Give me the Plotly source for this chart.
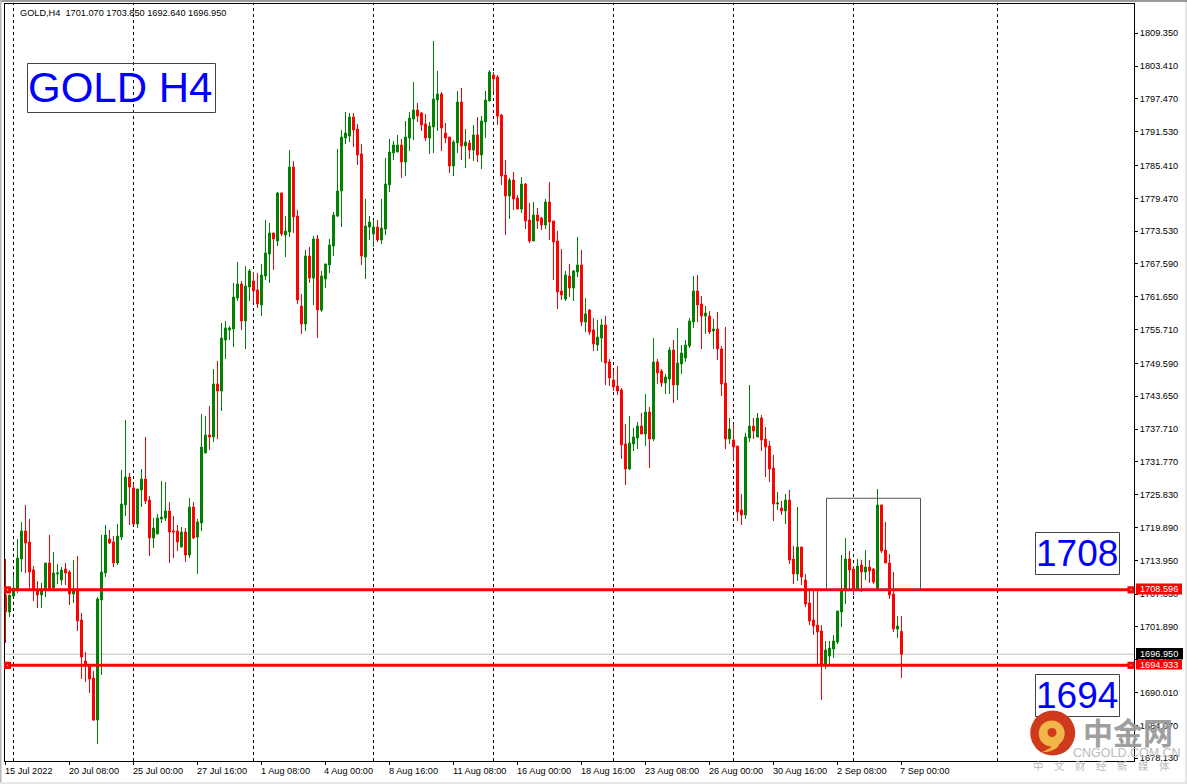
import plotly.graph_objects as go

directions = ("RGGGGRRRRG" "GRGGGRRGRR" "RRRGGGRRGG" "GRRGGRRGGG" "GRRRGRGRGG"
              "GRGRGGGGGR" "GGRRGGGRGR" "GGRRRGRGRG" "GGGGGGGRRR" "GGGRGGGGGR"
              "GGGRRRGGGR" "RRGGRGRGRG" "GGRRRRGRRG" "RRGRRGRRRR" "GRGGRGRRGG"
              "RRRRRRGGGR" "GRGRRGGRGG" "GGGRRGRGRR" "RGRRRGGRGR" "RRRGRGRRGR"
              "RRRRRGGGGG" "GRRGRGRRGR" "RRRGR")

highs = [
1714.18,1707.66,1711.28,1717.80,1720.88,1723.95,1721.42,1712.91,1710.20,1709.84,
1713.46,1718.53,1715.45,1713.28,1712.73,1713.46,1712.19,1714.00,1714.72,1704.41,
1697.35,1695.18,1693.91,1707.30,1718.53,1720.34,1719.43,1718.34,1720.52,1730.29,
1739.34,1729.75,1727.76,1726.85,1730.47,1736.26,1725.58,1721.60,1722.33,1728.30,
1728.12,1724.50,1721.96,1720.34,1719.97,1719.79,1725.22,1724.50,1721.42,1740.43,
1740.06,1741.87,1748.57,1750.02,1756.90,1757.26,1756.36,1764.14,1767.94,1764.50,
1767.21,1766.67,1766.13,1765.95,1767.58,1775.54,1775.00,1773.19,1780.61,1780.43,
1776.26,1788.21,1786.22,1777.35,1762.15,1770.11,1770.65,1772.64,1772.83,1766.31,
1767.58,1772.10,1776.99,1788.39,1791.83,1795.09,1794.91,1794.91,1792.92,1789.30,
1779.34,1776.26,1775.54,1775.54,1779.34,1786.76,1790.20,1789.84,1790.93,1790.20,
1793.46,1795.09,1800.52,1796.72,1795.09,1794.73,1793.28,1807.94,1802.51,1798.71,
1793.10,1790.56,1790.02,1798.89,1799.43,1792.01,1790.02,1792.74,1794.18,1794.36,
1798.89,1802.69,1802.33,1801.79,1794.73,1786.40,1783.14,1784.23,1780.07,1783.32,
1782.24,1778.62,1778.80,1777.71,1776.08,1779.34,1782.42,1775.36,1773.55,1770.29,
1766.31,1767.58,1766.49,1772.46,1770.11,1761.42,1759.43,1757.80,1757.44,1757.62,
1758.16,1750.38,1748.39,1749.11,1745.13,1738.62,1740.06,1737.89,1738.98,1740.61,
1744.05,1741.69,1754.18,1750.38,1748.57,1747.67,1752.55,1753.82,1756.00,1752.92,
1753.82,1757.80,1765.40,1765.59,1761.78,1759.97,1759.07,1757.62,1758.89,1752.73,
1756.17,1739.70,1738.62,1734.63,1725.95,1737.01,1745.68,1739.70,1740.61,1740.25,
1738.07,1735.54,1733.00,1726.31,1724.68,1725.95,1726.67,1716.53,1723.59,1716.35,
1711.47,1708.57,1708.57,1708.57,1702.23,1699.34,1699.34,1700.42,1704.77,1714.90,
1717.98,1715.63,1712.91,1714.18,1714.00,1715.81,1714.00,1712.55,1726.85,1723.96,
1720.88,1715.09,1711.83,1703.86,1703.85]

lows = [
1698.98,1703.68,1707.48,1708.03,1711.83,1711.65,1708.75,1706.58,1705.31,1705.31,
1707.30,1708.57,1708.57,1709.66,1709.48,1709.48,1705.86,1706.22,1701.15,1692.46,
1691.92,1689.93,1684.86,1680.70,1693.18,1710.92,1716.90,1712.73,1713.10,1717.62,
1721.96,1720.34,1720.52,1719.79,1723.59,1724.14,1714.72,1716.17,1718.71,1720.70,
1721.06,1713.46,1714.36,1715.63,1716.35,1713.64,1714.36,1717.80,1711.47,1719.25,
1733.37,1733.91,1735.36,1735.90,1740.97,1750.38,1753.82,1752.55,1760.88,1755.63,
1752.19,1760.88,1760.52,1759.61,1758.16,1764.68,1764.14,1766.49,1770.83,1772.64,
1768.84,1772.46,1773.19,1760.34,1754.91,1755.45,1764.14,1760.16,1754.18,1758.89,
1763.23,1765.95,1769.02,1776.08,1774.27,1789.30,1789.66,1788.75,1785.50,1767.40,
1764.86,1771.92,1770.65,1771.56,1771.20,1772.83,1780.61,1786.40,1787.85,1783.14,
1783.50,1788.03,1790.02,1793.28,1791.65,1789.84,1787.49,1787.67,1791.65,1788.03,
1789.48,1784.05,1783.50,1787.67,1786.40,1784.95,1786.58,1786.22,1786.04,1784.77,
1790.38,1797.08,1798.71,1792.74,1781.88,1772.83,1775.72,1777.35,1777.53,1776.81,
1773.91,1771.38,1771.74,1773.91,1773.73,1773.91,1771.92,1764.68,1759.43,1761.06,
1760.88,1761.60,1760.88,1765.22,1756.35,1755.27,1754.72,1751.83,1751.83,1749.84,
1745.68,1745.50,1744.59,1743.87,1732.28,1727.57,1730.29,1733.73,1734.09,1736.81,
1734.63,1730.65,1735.54,1745.86,1745.31,1744.05,1744.05,1742.42,1742.96,1747.67,
1749.84,1752.37,1756.00,1757.08,1752.19,1754.91,1754.91,1752.19,1750.20,1743.68,
1734.09,1734.99,1731.92,1721.06,1720.34,1721.42,1735.36,1735.90,1736.26,1733.73,
1729.02,1728.12,1721.06,1723.05,1722.15,1720.52,1713.28,1709.66,1710.20,1709.48,
1705.49,1702.23,1700.42,1695.00,1688.66,1694.27,1695.00,1696.26,1698.80,1701.87,
1706.04,1708.57,1707.66,1708.75,1708.21,1710.38,1709.84,1709.66,1708.75,1715.27,
1713.46,1706.94,1700.97,1699.88,1692.64]

body_tops = [
1707.66,1707.66,1708.93,1714.36,1719.25,1719.25,1717.26,1712.19,1708.75,1708.75,
1713.46,1713.46,1711.65,1711.65,1712.19,1712.37,1711.83,1708.75,1708.57,1703.14,
1695.72,1695.00,1692.64,1706.94,1711.83,1718.53,1717.80,1717.26,1718.34,1724.14,
1729.02,1729.02,1727.03,1726.85,1728.66,1728.66,1724.86,1719.79,1721.60,1721.78,
1722.87,1722.87,1719.25,1719.25,1719.07,1719.07,1723.59,1723.59,1720.88,1734.45,
1736.63,1736.63,1745.86,1745.86,1754.18,1756.00,1756.00,1761.60,1763.96,1763.96,
1763.59,1766.31,1764.50,1762.87,1765.59,1769.57,1773.19,1773.19,1780.43,1780.43,
1773.55,1785.13,1785.13,1776.26,1759.97,1769.02,1769.02,1772.10,1772.10,1765.40,
1767.58,1771.02,1776.45,1780.79,1790.56,1791.29,1794.18,1794.18,1792.01,1787.49,
1774.45,1775.18,1774.27,1774.27,1774.09,1782.06,1787.85,1789.12,1789.12,1789.12,
1790.56,1794.00,1795.45,1795.45,1794.91,1792.92,1792.55,1797.44,1798.35,1798.35,
1791.29,1790.56,1789.66,1796.90,1796.90,1789.66,1789.48,1790.93,1790.93,1793.46,
1797.26,1802.33,1801.79,1801.42,1794.55,1783.69,1782.78,1782.78,1779.52,1782.06,
1782.06,1775.54,1776.45,1776.45,1775.90,1778.80,1778.80,1775.36,1771.74,1762.69,
1765.59,1765.40,1766.31,1767.40,1767.40,1758.53,1759.25,1755.63,1754.36,1756.54,
1756.54,1749.84,1746.58,1745.50,1744.77,1735.00,1735.18,1736.26,1738.25,1738.25,
1740.79,1740.79,1749.84,1749.84,1748.21,1747.12,1752.01,1752.01,1749.66,1751.47,
1752.92,1757.26,1762.69,1762.69,1760.34,1758.71,1758.16,1755.81,1755.81,1752.19,
1746.04,1737.71,1735.72,1734.63,1723.05,1736.26,1738.25,1738.25,1739.70,1739.70,
1735.90,1734.63,1730.65,1724.32,1723.41,1724.86,1724.86,1714.18,1716.35,1716.35,
1710.38,1706.22,1703.14,1702.23,1701.15,1697.71,1698.07,1699.34,1704.77,1708.57,
1714.18,1714.18,1712.37,1712.91,1713.10,1712.73,1712.73,1712.37,1723.96,1723.96,
1715.81,1713.46,1707.85,1702.05,1701.07]

body_bottoms = [
1704.59,1704.59,1707.48,1708.75,1714.18,1717.08,1711.83,1708.75,1707.66,1707.66,
1708.75,1708.75,1708.93,1711.47,1710.38,1711.65,1707.85,1707.85,1702.96,1696.44,
1695.00,1692.46,1685.04,1685.04,1706.76,1711.65,1717.08,1713.46,1713.46,1718.16,
1723.96,1727.21,1720.52,1720.52,1726.67,1724.68,1717.98,1717.98,1718.71,1721.42,
1721.60,1719.07,1719.07,1717.26,1716.35,1714.90,1714.90,1717.98,1718.16,1720.70,
1733.37,1736.27,1736.27,1744.59,1744.59,1753.82,1755.63,1755.81,1761.42,1757.26,
1757.26,1763.41,1762.69,1760.34,1760.16,1765.40,1769.39,1772.10,1771.74,1773.01,
1772.83,1773.37,1776.08,1761.06,1756.72,1756.72,1765.04,1765.04,1759.25,1759.25,
1764.86,1767.40,1770.83,1776.26,1780.79,1790.38,1790.74,1791.83,1787.30,1769.02,
1768.84,1774.27,1773.01,1771.92,1771.92,1773.91,1781.88,1787.67,1787.85,1786.04,
1786.04,1790.38,1793.82,1794.36,1792.74,1790.38,1790.38,1792.37,1797.26,1792.19,
1790.38,1785.31,1785.31,1789.48,1788.93,1788.93,1788.21,1788.21,1787.30,1787.30,
1793.28,1797.08,1801.06,1794.36,1783.50,1779.88,1779.88,1779.34,1777.53,1777.53,
1775.36,1771.74,1771.74,1775.36,1774.64,1774.64,1775.18,1771.56,1762.51,1761.96,
1761.24,1763.23,1763.23,1766.13,1757.08,1757.08,1755.27,1753.10,1752.92,1754.18,
1749.66,1746.94,1745.31,1744.59,1734.82,1730.47,1730.47,1735.00,1736.08,1736.81,
1736.81,1735.90,1735.90,1747.85,1746.04,1746.04,1746.76,1745.68,1745.68,1749.48,
1750.56,1752.74,1757.08,1760.16,1758.16,1758.16,1755.27,1755.45,1752.19,1745.86,
1735.90,1735.90,1734.45,1722.69,1722.15,1722.15,1736.08,1737.35,1736.26,1735.72,
1734.45,1730.47,1724.14,1724.14,1722.87,1722.87,1714.00,1711.47,1711.47,1710.92,
1706.04,1702.96,1702.05,1700.97,1695.00,1695.00,1696.62,1697.89,1699.16,1704.59,
1708.57,1712.19,1708.75,1708.75,1711.83,1711.83,1712.01,1710.02,1708.75,1715.63,
1713.46,1707.66,1701.51,1701.51,1696.95]

y_ticks = [1809.35, 1803.41, 1797.47, 1791.53, 1785.41, 1779.47, 1773.53, 1767.59,
           1761.65, 1755.71, 1749.59, 1743.65, 1737.71, 1731.77, 1725.83, 1719.89,
           1713.95, 1707.83, 1701.89, 1695.95, 1690.01, 1684.07, 1678.13]
x_tick_pos = [0, 16, 32, 48, 64, 80, 96, 112, 128, 144, 160, 176, 192, 208, 224]
x_tick_labels = ["15 Jul 2022", "20 Jul 08:00", "25 Jul 00:00", "27 Jul 16:00", "1 Aug 08:00",
                 "4 Aug 00:00", "8 Aug 16:00", "11 Aug 08:00", "16 Aug 00:00", "18 Aug 16:00",
                 "23 Aug 08:00", "26 Aug 00:00", "30 Aug 16:00", "2 Sep 08:00", "7 Sep 00:00"]
day_grid = [2, 32, 62, 92, 122, 152, 182, 212, 248]
levels = [1708.596, 1694.933]
last_price = 1696.95
box_zone = [205.25, 228.75, 1708.7, 1725.17]

assert len(directions) == len(highs) == len(lows) == len(body_tops) == len(body_bottoms) == 225

x_vals = list(range(len(highs)))
opens = [b if d == "G" else t for d, t, b in zip(directions, body_tops, body_bottoms)]
closes = [t if d == "G" else b for d, t, b in zip(directions, body_tops, body_bottoms)]

L, R, T, B = 5, 1134, 4, 761
FONT = "Liberation Sans"
SMALL = 9.2
GREEN, RED = "#008000", "#ff0000"


def fx(px):
    return (px - L) / (R - L)


def fy(py):
    return (B - py) / (B - T)


def rect(x0, y0, x1, y1, fill=None, line=None, lw=1, opacity=1):
    return dict(type="rect", xref="paper", yref="paper", x0=fx(x0), x1=fx(x1), y0=fy(y0), y1=fy(y1),
                fillcolor=fill or "rgba(0,0,0,0)", line=dict(color=line or "rgba(0,0,0,0)", width=lw if line else 0),
                layer="above", opacity=opacity)


def path(points, fill, opacity=1):
    d = ""
    for cmd, coords in points:
        d += cmd + " ".join(f"{fx(c[0]):.5f},{fy(c[1]):.5f}" for c in coords)
    return dict(type="path", xref="paper", yref="paper", path=d + "Z", fillcolor=fill,
                line=dict(width=0), layer="above", opacity=opacity)


def circle(cx, cy, r, fill):
    return dict(type="circle", xref="paper", yref="paper", x0=fx(cx - r), x1=fx(cx + r), y0=fy(cy + r), y1=fy(cy - r),
                fillcolor=fill, line=dict(width=0), layer="above")


def text(px, py, s, size=SMALL, color="black", anchor="left", family=FONT, opacity=1):
    return dict(xref="paper", yref="paper", x=fx(px), y=fy(py), text=s, showarrow=False, xanchor=anchor,
                yanchor="middle", borderpad=0, borderwidth=0, font=dict(family=family, size=size, color=color),
                opacity=opacity)


fig = go.Figure(go.Candlestick(
    x=x_vals, open=opens, high=highs, low=lows, close=closes, whiskerwidth=0,
    increasing=dict(line=dict(color=GREEN, width=1), fillcolor=GREEN),
    decreasing=dict(line=dict(color=RED, width=1), fillcolor=RED),
    hoverinfo="skip", showlegend=False))

shapes = []
for g in day_grid:
    shapes.append(dict(type="line", xref="x", yref="paper", x0=g, x1=g, y0=0, y1=1, layer="below",
                       line=dict(color="black", width=1, dash="3px,3px")))
shapes.append(dict(type="line", xref="paper", yref="y", x0=0, x1=1, y0=last_price, y1=last_price, layer="below",
                   line=dict(color="#c0c0c0", width=1)))
for lv in levels:
    shapes.append(dict(type="line", xref="paper", yref="y", x0=0, x1=1, y0=lv, y1=lv, layer="above",
                       line=dict(color=RED, width=3)))
    for sx in (7.5, 1131):
        shapes.append(dict(type="rect", xref="paper", yref="y", x0=fx(sx - 3.5), x1=fx(sx + 3.5),
                           y0=lv - 0.65, y1=lv + 0.65, fillcolor=RED, line=dict(width=0), layer="above"))
        shapes.append(dict(type="rect", xref="paper", yref="y", x0=fx(sx - 0.5), x1=fx(sx + 0.5),
                           y0=lv - 0.09, y1=lv + 0.09, fillcolor="white", line=dict(width=0), layer="above"))
shapes.append(dict(type="rect", xref="x", yref="y", x0=box_zone[0], x1=box_zone[1], y0=box_zone[2], y1=box_zone[3],
                   line=dict(color="#555555", width=1), fillcolor="rgba(0,0,0,0)", layer="above"))

# label boxes
shapes += [rect(27.5, 63.5, 215.5, 112.5, line="#444444"),
           rect(1035.5, 532.5, 1119.5, 574.5, line="#444444"),
           rect(1035.5, 674.5, 1119.5, 716.5, line="#444444")]
# price tags
shapes += [rect(1136, 583.5, 1182, 594.5, fill=RED),
           rect(1136, 648, 1183, 659.5, fill="black"),
           rect(1136, 660, 1182, 669.5, fill=RED)]
# window edges
shapes += [rect(0, 0, 1187, 2, fill="#9a9a9a"), rect(0, 0, 1.5, 784, fill="#b8b8b8"),
           rect(1185, 2, 1187, 784, fill="#e6e6e6"), rect(0, 782, 1187, 784, fill="#e6e6e6")]
# chart shift marker and header arrow
shapes.append(path([("M", [(902, 4)]), ("L", [(912, 4), (907, 10)])], "#c0c0c0"))
shapes.append(path([("M", [(8.5, 10)]), ("L", [(15.5, 10), (12, 14.5)])], "black"))
# logo
shapes.append(circle(1052.7, 733, 22.5, "#cf3a1c"))
shapes.append(circle(1051.7, 733.5, 13, "#f1b64a"))
shapes.append(path([("M", [(1058, 742)]), ("C", [(1062, 746), (1054, 752), (1041, 752.5)]),
                    ("C", [(1050, 749), (1055, 745), (1050, 744)])], "#f1b64a"))
shapes.append(circle(1052, 732.5, 4.5, "#cf3a1c"))

annotations = [text(L + 4 * p - 0.5, 770.5, lab) for p, lab in zip(x_tick_pos, x_tick_labels)]
annotations += [
    text(20, 12.5, "GOLD,H4\u00a0\u00a01701.070 1703.850 1692.640 1696.950"),
    text(27.5, 87.5, "GOLD H4", size=42, color="#0000ff"),
    text(1076.5, 553.5, "1708", size=37, color="#0000ff", anchor="center"),
    text(1076.5, 695.5, "1694", size=37, color="#0000ff", anchor="center"),
    text(1140, 589, "1708.596", color="white"),
    text(1140, 654, "1696.950", color="white"),
    text(1140, 665, "1694.933", color="white"),
    text(1127.5, 731, "<b>中金网</b>", size=30, color="#9a9a9a", anchor="center", family="Noto Sans CJK SC", opacity=0.95),
    text(1127, 752.5, "CNGOLD.COM.CN", size=12.5, color="#bbbbbb", anchor="center", family=FONT),
    text(1101, 766, "中\u2003文\u2003财\u2003经\u2003新\u2003媒\u2003体", size=10.5, color="#bbbbbb", anchor="center",
         family="Noto Sans CJK SC"),
]

fig.update_layout(
    width=1187, height=784, paper_bgcolor="white", plot_bgcolor="white",
    margin=dict(l=L, r=1187 - R, t=T, b=784 - B, pad=0, autoexpand=False),
    showlegend=False, shapes=shapes, annotations=annotations,
    font=dict(family=FONT, size=SMALL, color="black"),
    xaxis=dict(range=[-0.125, (R - 5.5) / 4], rangeslider=dict(visible=False), showgrid=False, zeroline=False,
               showline=True, linecolor="black", linewidth=1, mirror=True, tickmode="array",
               tickvals=x_tick_pos, ticks="outside", ticklen=3, tickcolor="black", tickwidth=1, showticklabels=False),
    yaxis=dict(range=[1815.36 - 0.181 * B, 1815.36 - 0.181 * T], side="right", showgrid=False, zeroline=False,
               showline=True, linecolor="black", linewidth=1, mirror=True, tickmode="array", tickvals=y_ticks,
               tickformat=".3f", ticks="outside", ticklen=3, tickcolor="black", tickwidth=1,
               tickfont=dict(family=FONT, size=SMALL, color="black")),
)

fig.write_html("out.html", config=dict(displayModeBar=False),
               post_script="document.body.style.margin='0';document.documentElement.style.overflow='hidden';")
